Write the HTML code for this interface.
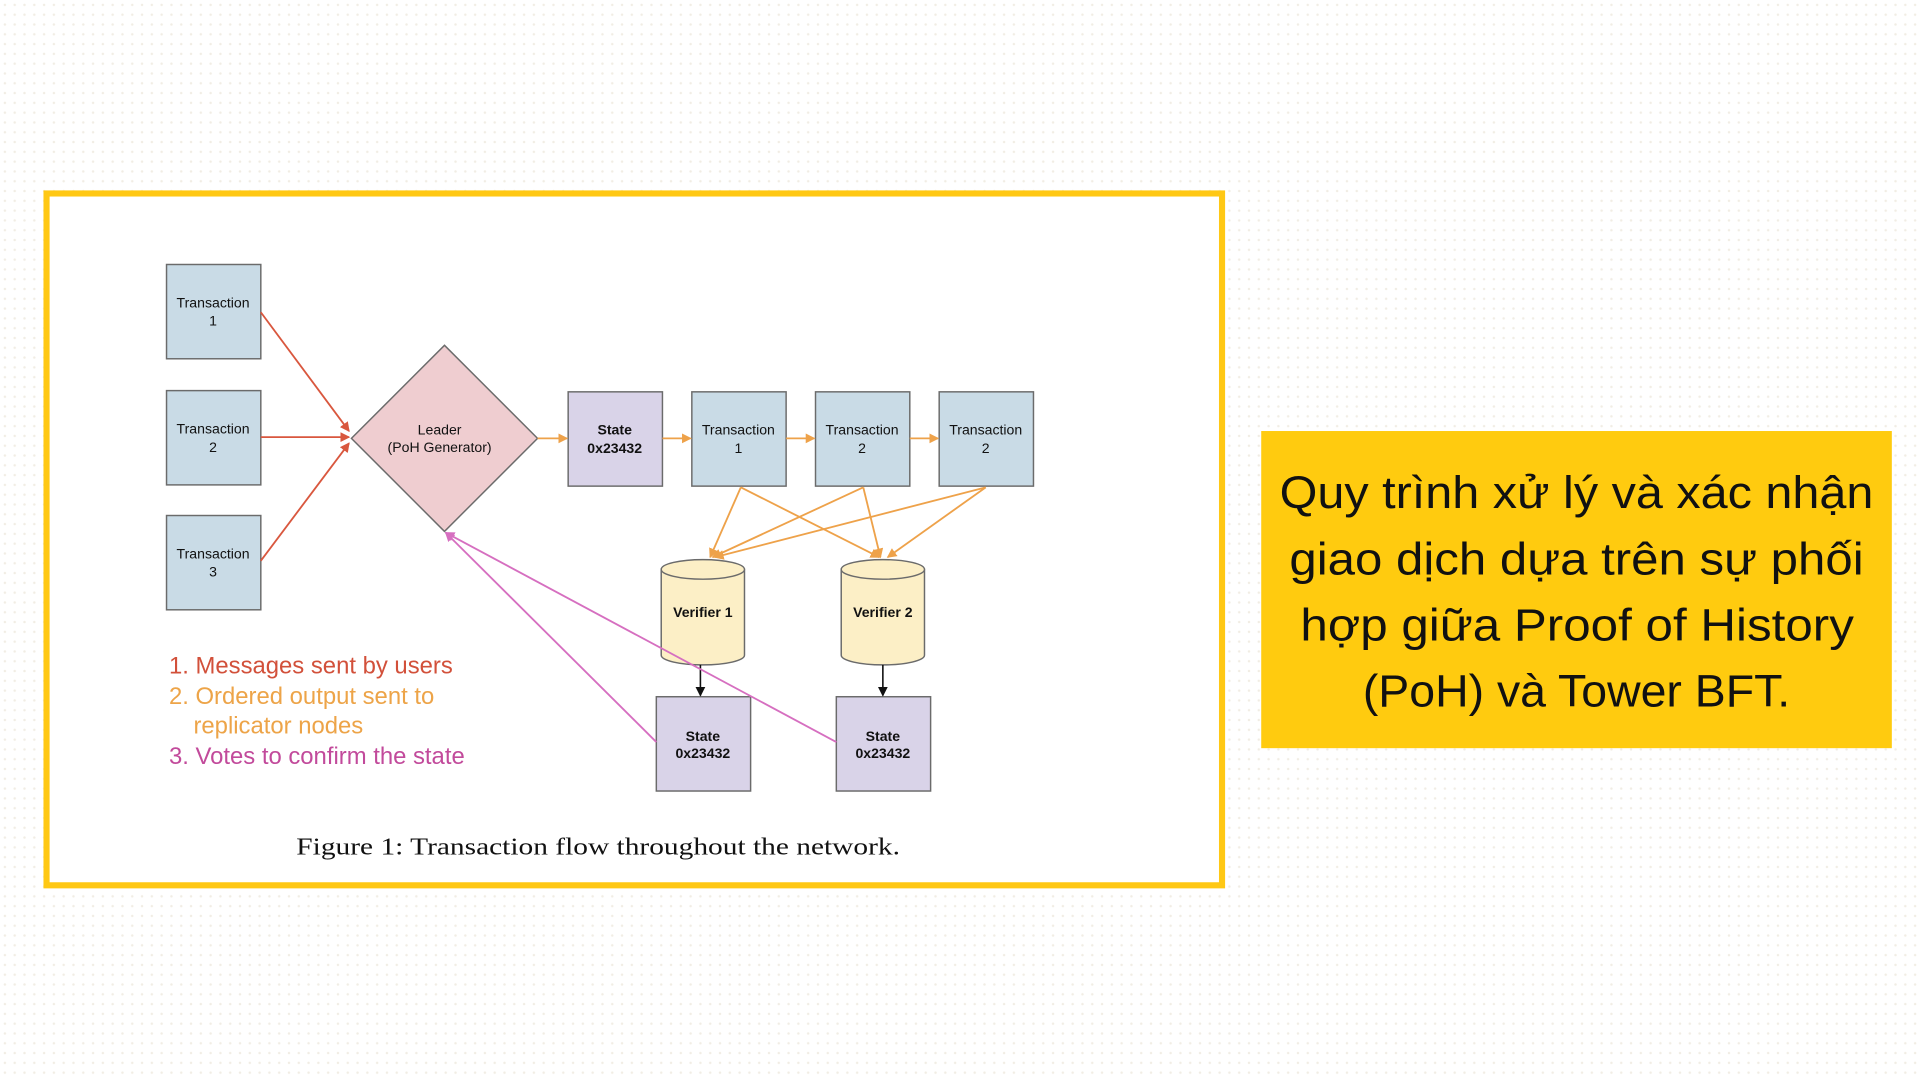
<!DOCTYPE html>
<html><head><meta charset="utf-8"><style>
html,body{margin:0;padding:0;background:#fff;}
svg{display:block;}
</style></head><body>
<svg width="1920" height="1080" viewBox="0 0 1568 882" xmlns="http://www.w3.org/2000/svg">
<defs>
<pattern id="dots" width="8" height="8" patternUnits="userSpaceOnUse"><circle cx="4" cy="4" r="1" fill="#f1ede4"/></pattern>
<marker id="ar" markerWidth="8" markerHeight="8" refX="7" refY="4" orient="auto" markerUnits="userSpaceOnUse"><path d="M0,0 L8,4 L0,8 z" fill="#d9573e"/></marker>
<marker id="ao" markerWidth="8" markerHeight="8" refX="7" refY="4" orient="auto" markerUnits="userSpaceOnUse"><path d="M0,0 L8,4 L0,8 z" fill="#eea24a"/></marker>
<marker id="ab" markerWidth="8" markerHeight="8" refX="7" refY="4" orient="auto" markerUnits="userSpaceOnUse"><path d="M0,0 L8,4 L0,8 z" fill="#111"/></marker>
<marker id="ap" markerWidth="8" markerHeight="8" refX="7" refY="4" orient="auto" markerUnits="userSpaceOnUse"><path d="M0,0 L8,4 L0,8 z" fill="#d66fc0"/></marker>
</defs>
<rect width="1568" height="882" fill="#fff"/>
<rect width="1568" height="882" fill="url(#dots)"/>
<rect x="38" y="158" width="960" height="565" fill="#fff" stroke="#ffc814" stroke-width="5"/>

<g font-family="Liberation Sans, sans-serif" font-size="11.5" text-anchor="middle" fill="#111">
<g stroke="#6b6b6b" stroke-width="1.2" fill="#c9dbe6">
<rect x="136" y="216" width="77" height="77"/>
<rect x="136" y="319" width="77" height="77"/>
<rect x="136" y="421" width="77" height="77"/>
<rect x="565" y="320" width="77" height="77"/>
<rect x="666" y="320" width="77" height="77"/>
<rect x="767" y="320" width="77" height="77"/>
</g>
<g stroke="#6b6b6b" stroke-width="1.2" fill="#d9d3e8">
<rect x="464" y="320" width="77" height="77"/>
<rect x="536" y="569" width="77" height="77"/>
<rect x="683" y="569" width="77" height="77"/>
</g>
<polygon points="363,282 439,358 363,434 287,358" fill="#efcdd0" stroke="#6b6b6b" stroke-width="1.2"/>
<g stroke="#6b6b6b" stroke-width="1.2" fill="#fcefc6">
<path d="M540,465 L540,535 A34,8 0 0 0 608,535 L608,465"/>
<ellipse cx="574" cy="465" rx="34" ry="8"/>
<path d="M687,465 L687,535 A34,8 0 0 0 755,535 L755,465"/>
<ellipse cx="721" cy="465" rx="34" ry="8"/>
</g>
<text x="174" y="251">Transaction</text><text x="174" y="266">1</text>
<text x="174" y="354">Transaction</text><text x="174" y="369">2</text>
<text x="174" y="456">Transaction</text><text x="174" y="471">3</text>
<text x="359" y="355">Leader</text><text x="359" y="369">(PoH Generator)</text>
<text x="502" y="355" font-weight="bold">State</text><text x="502" y="370" font-weight="bold">0x23432</text>
<text x="603" y="355">Transaction</text><text x="603" y="370">1</text>
<text x="704" y="355">Transaction</text><text x="704" y="370">2</text>
<text x="805" y="355">Transaction</text><text x="805" y="370">2</text>
<text x="574" y="504" font-weight="bold">Verifier 1</text>
<text x="721" y="504" font-weight="bold">Verifier 2</text>
<text x="574" y="605" font-weight="bold">State</text><text x="574" y="619" font-weight="bold">0x23432</text>
<text x="721" y="605" font-weight="bold">State</text><text x="721" y="619" font-weight="bold">0x23432</text>
</g>

<g stroke="#d9573e" stroke-width="1.5" fill="none">
<line x1="213" y1="255" x2="285" y2="352" marker-end="url(#ar)"/>
<line x1="213" y1="357" x2="285" y2="357" marker-end="url(#ar)"/>
<line x1="213" y1="458" x2="285" y2="362" marker-end="url(#ar)"/>
</g>
<g stroke="#eea24a" stroke-width="1.5" fill="none">
<line x1="439" y1="358" x2="463" y2="358" marker-end="url(#ao)"/>
<line x1="541" y1="358" x2="564" y2="358" marker-end="url(#ao)"/>
<line x1="642" y1="358" x2="665" y2="358" marker-end="url(#ao)"/>
<line x1="743" y1="358" x2="766" y2="358" marker-end="url(#ao)"/>
<line x1="605" y1="398" x2="580" y2="455" marker-end="url(#ao)"/>
<line x1="605" y1="398" x2="718" y2="455" marker-end="url(#ao)"/>
<line x1="705" y1="398" x2="582" y2="455" marker-end="url(#ao)"/>
<line x1="705" y1="398" x2="719" y2="455" marker-end="url(#ao)"/>
<line x1="805" y1="398" x2="584" y2="455" marker-end="url(#ao)"/>
<line x1="805" y1="398" x2="725" y2="455" marker-end="url(#ao)"/>
</g>
<g stroke="#111" stroke-width="1.3">
<line x1="572" y1="543" x2="572" y2="568" marker-end="url(#ab)"/>
<line x1="721" y1="543" x2="721" y2="568" marker-end="url(#ab)"/>
</g>
<g stroke="#d66fc0" stroke-width="1.5">
<line x1="536" y1="606" x2="364" y2="435" marker-end="url(#ap)"/>
<line x1="683" y1="606" x2="364" y2="435" marker-end="url(#ap)"/>
</g>

<g font-family="Liberation Sans, sans-serif" font-size="19.5">
<text x="138" y="550" fill="#d2503a">1. Messages sent by users</text>
<text x="138" y="575" fill="#eda448">2. Ordered output sent to</text>
<text x="158" y="599" fill="#eda448">replicator nodes</text>
<text x="138" y="624" fill="#c24a9b">3. Votes to confirm the state</text>
</g>
<text x="242" y="698" font-family="Liberation Serif, serif" font-size="20" fill="#111" textLength="493" lengthAdjust="spacingAndGlyphs">Figure 1:  Transaction flow throughout the network.</text>

<rect x="1030" y="352" width="515" height="259" fill="#ffcb0f"/>
<g font-family="Liberation Sans, sans-serif" font-size="37" fill="#111" lengthAdjust="spacingAndGlyphs">
<text x="1045" y="415" textLength="485" lengthAdjust="spacingAndGlyphs">Quy trình xử lý và xác nhận</text>
<text x="1053" y="469" textLength="469" lengthAdjust="spacingAndGlyphs">giao dịch dựa trên sự phối</text>
<text x="1062" y="523" textLength="452" lengthAdjust="spacingAndGlyphs">hợp giữa Proof of History</text>
<text x="1113" y="577" textLength="349" lengthAdjust="spacingAndGlyphs">(PoH) và Tower BFT.</text>
</g>
</svg>
</body></html>
